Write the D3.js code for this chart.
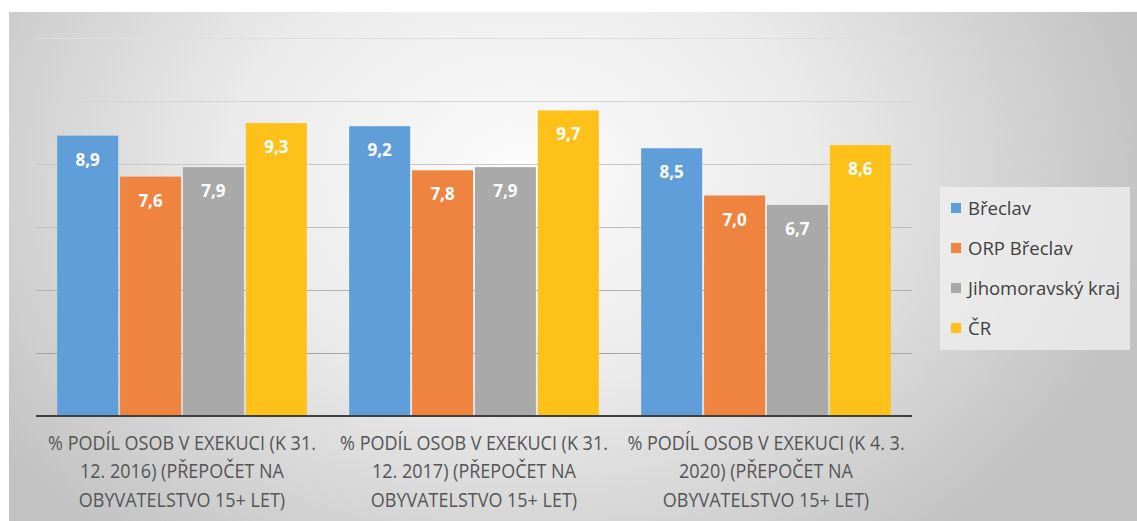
<!DOCTYPE html>
<html><head><meta charset="utf-8">
<script src="https://cdn.jsdelivr.net/npm/d3@7"></script>
<style>html,body{margin:0;padding:0;background:#fff;}svg{display:block;}</style>
</head><body>
<svg id="chart" width="1137" height="521"></svg>
<script>
// ---- data ----
const categories = [
  "% PODÍL OSOB V EXEKUCI (K 31. 12. 2016) (PŘEPOČET NA OBYVATELSTVO 15+ LET)",
  "% PODÍL OSOB V EXEKUCI (K 31. 12. 2017) (PŘEPOČET NA OBYVATELSTVO 15+ LET)",
  "% PODÍL OSOB V EXEKUCI (K 4. 3. 2020) (PŘEPOČET NA OBYVATELSTVO 15+ LET)"
];
const categoryLines = [
  ["% PODÍL OSOB V EXEKUCI (K 31.", "12. 2016) (PŘEPOČET NA", "OBYVATELSTVO 15+ LET)"],
  ["% PODÍL OSOB V EXEKUCI (K 31.", "12. 2017) (PŘEPOČET NA", "OBYVATELSTVO 15+ LET)"],
  ["% PODÍL OSOB V EXEKUCI (K 4. 3.", "2020) (PŘEPOČET NA", "OBYVATELSTVO 15+ LET)"]
];
const seriesNames = ["Břeclav", "ORP Břeclav", "Jihomoravský kraj", "ČR"];
const breclav = [8.9, 9.2, 8.5];
const orpBreclav = [7.6, 7.8, 7.0];
const jihomoravsky = [7.9, 7.9, 6.7];
const cr = [9.3, 9.7, 8.6];
const seriesValues = [breclav, orpBreclav, jihomoravsky, cr];
const gridTicks = [0, 2, 4, 6, 8, 10, 12];
const colors = ["#5f9ed8", "#ee8440", "#a9a9a9", "#fec11a"];

// ---- layout ----
const svg = d3.select("#chart");
const W = 1137, H = 521;
const plot = {left: 36, right: 912, top: 38, bottom: 416};
const font = "'Open Sans', 'Liberation Sans', sans-serif";

const defs = svg.append("defs");
const rg = defs.append("radialGradient").attr("id", "bg")
  .attr("gradientUnits", "userSpaceOnUse")
  .attr("cx", 520).attr("cy", 170).attr("r", 640)
  .attr("gradientTransform", "translate(520,170) scale(1,0.75) translate(-520,-170)");
rg.append("stop").attr("offset", "0").attr("stop-color", "#fbfbfb");
rg.append("stop").attr("offset", "0.45").attr("stop-color", "#ebebeb");
rg.append("stop").attr("offset", "1").attr("stop-color", "#c2c2c2");

svg.append("rect").attr("x", 0).attr("y", 0).attr("width", W).attr("height", H).attr("fill", "#ffffff");
svg.append("rect").attr("x", 9).attr("y", 12).attr("width", W - 9).attr("height", H - 12).attr("fill", "url(#bg)");

// scales
const x0 = d3.scaleBand().domain(d3.range(categories.length)).range([plot.left, plot.right]).paddingInner(0.145).paddingOuter(0.0725);
const x1 = d3.scaleBand().domain(d3.range(seriesNames.length)).range([0, x0.bandwidth()]).paddingInner(0.03);
const y = d3.scaleLinear().domain([0, 12]).range([plot.bottom, plot.top]);

// gridlines
const gridColor = d3.scaleLinear().domain([0, 12]).range(["#9a9a9a", "#dedede"]);
const grid = svg.append("g").attr("transform", `translate(${plot.left},0)`)
  .call(d3.axisLeft(y).tickValues(gridTicks.slice(1)).tickSize(-(plot.right - plot.left)).tickFormat(""));
grid.select(".domain").remove();
grid.selectAll(".tick line").attr("stroke", d => gridColor(d)).attr("stroke-width", 1);

// bars
const groups = svg.append("g").selectAll("g").data(categories).join("g")
  .attr("transform", (d, i) => `translate(${x0(i)},0)`);
groups.selectAll("rect").data((d, i) => seriesValues.map((s, j) => ({j, v: s[i]}))).join("rect")
  .attr("x", d => x1(d.j)).attr("width", x1.bandwidth())
  .attr("y", d => y(d.v)).attr("height", d => y(0) - y(d.v))
  .attr("fill", d => colors[d.j]);
groups.selectAll("text").data((d, i) => seriesValues.map((s, j) => ({j, v: s[i]}))).join("text")
  .attr("x", d => x1(d.j) + x1.bandwidth() / 2)
  .attr("y", d => y(d.v) + 30)
  .attr("text-anchor", "middle")
  .attr("font-family", font).attr("font-weight", "bold").attr("font-size", 17)
  .attr("fill", "#ffffff")
  .text(d => d3.format(".1f")(d.v).replace(".", ","));

// x axis
const xAxis = svg.append("g").attr("transform", `translate(0,${plot.bottom})`)
  .call(d3.axisBottom(x0).tickSize(0).tickFormat(""));
xAxis.select(".domain").attr("stroke", "#404040").attr("stroke-width", 2)
  .attr("d", `M${plot.left},0H${plot.right}`);
const sy = 1.1;
xAxis.selectAll(".tick").each(function(d, i) {
  const t = d3.select(this).append("text")
    .attr("text-anchor", "middle").attr("fill", "#555555")
    .attr("transform", `scale(1,${sy})`)
    .attr("font-family", font).attr("font-size", 18);
  categoryLines[i].forEach((line, k) => {
    t.append("tspan").attr("x", 0).attr("y", (34 + k * 28.5) / sy).text(line);
  });
});

// legend
const lg = svg.append("g");
lg.append("rect").attr("x", 940).attr("y", 187).attr("width", 190).attr("height", 163)
  .attr("fill", "#f0f0f0").attr("opacity", 0.75);
const items = lg.selectAll("g").data(seriesNames).join("g")
  .attr("transform", (d, i) => `translate(951,${215 + i * 40})`);
items.append("rect").attr("x", 0).attr("y", -12).attr("width", 10).attr("height", 10)
  .attr("fill", (d, i) => colors[i]);
items.append("text").attr("x", 17).attr("y", 0)
  .attr("font-family", font).attr("font-size", 18.5).attr("fill", "#404040")
  .text(d => d);
</script>
</body></html>
